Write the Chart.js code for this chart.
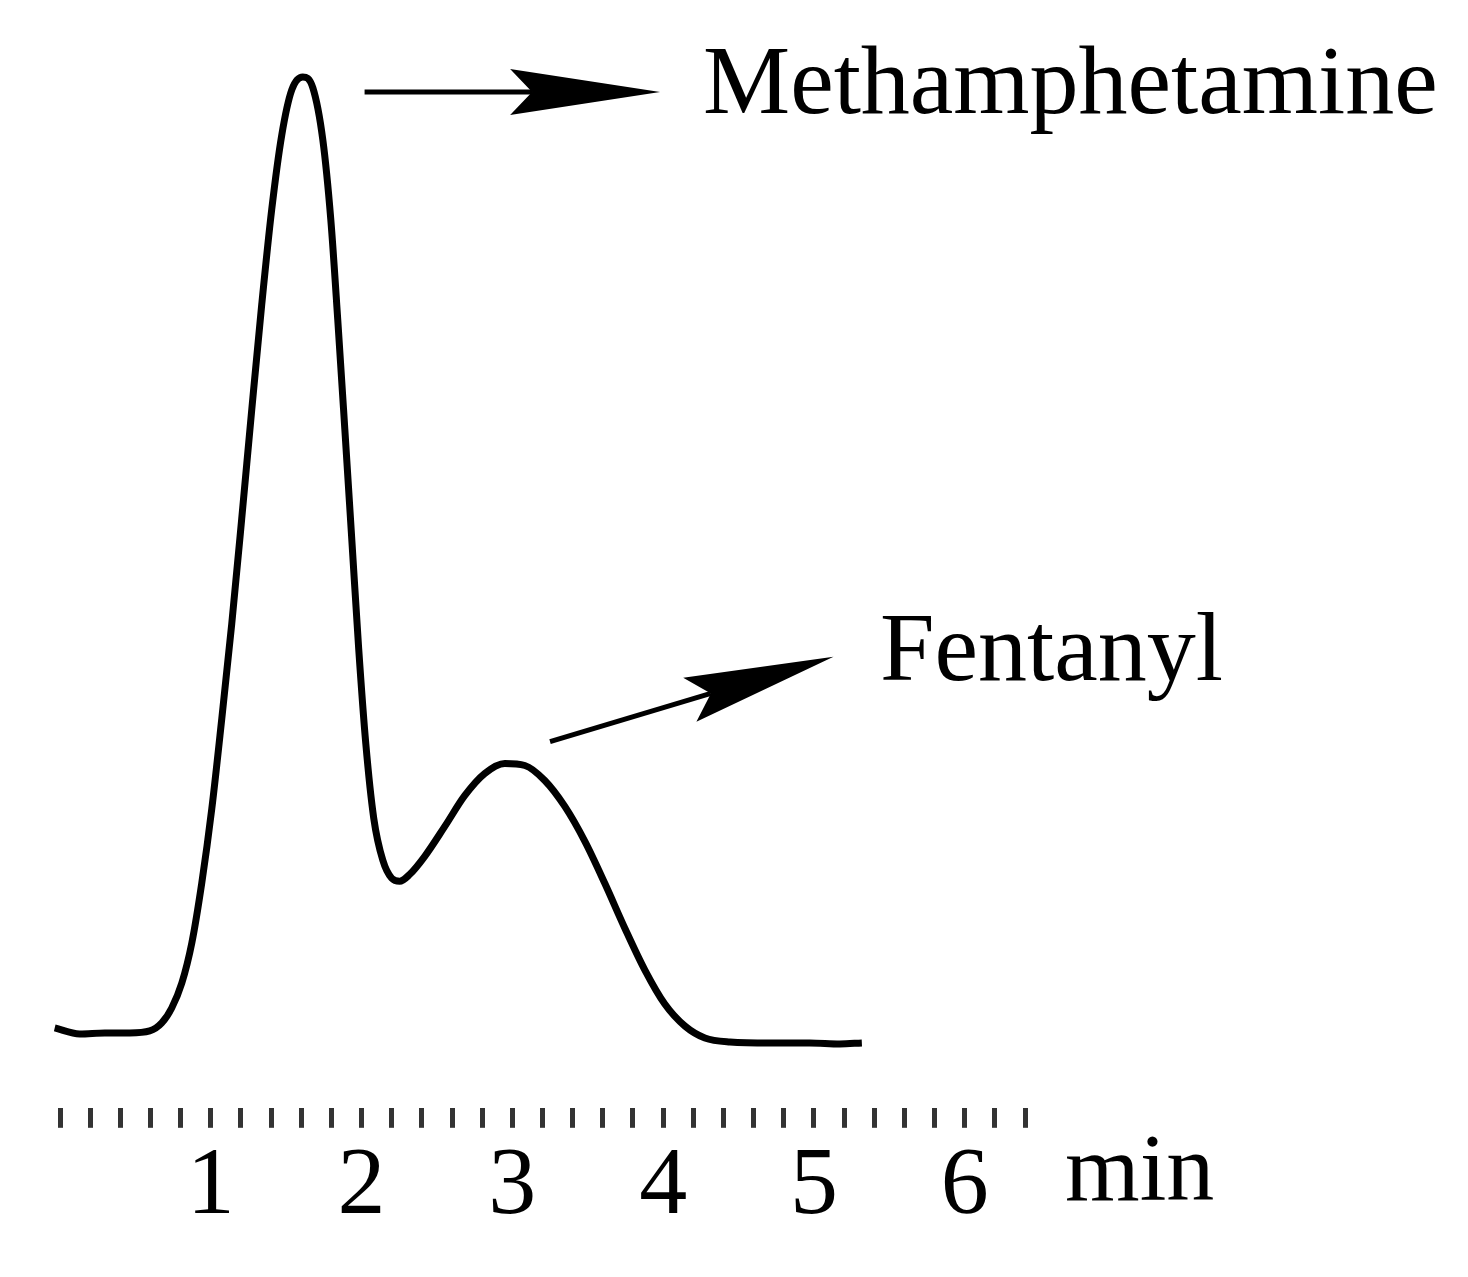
<!DOCTYPE html>
<html>
<head>
<meta charset="utf-8">
<script src="https://cdn.jsdelivr.net/npm/chart.js@4"></script>
<style>
  html, body { margin: 0; padding: 0; background: #fff; }
  #wrap { width: 1468px; height: 1277px; }
</style>
</head>
<body>
<div id="wrap"><canvas id="myChart" width="1468" height="1277"></canvas></div>
<script>
// retention time (min) and detector signal (arbitrary units)
const times = [-0.035, 0.131, 0.297, 0.463, 0.595, 0.675, 0.741, 0.808, 0.874, 0.94,
  1.007, 1.073, 1.139, 1.205, 1.272, 1.338, 1.404, 1.471, 1.537, 1.61,
  1.677, 1.743, 1.796, 1.842, 1.889, 1.935, 1.981, 2.028, 2.081, 2.141,
  2.2, 2.253, 2.32, 2.419, 2.552, 2.685, 2.817, 2.95, 3.083, 3.215,
  3.348, 3.481, 3.613, 3.746, 3.879, 4.011, 4.144, 4.277, 4.443, 4.708,
  4.973, 5.172, 5.318];
const signal = [1.0, 0.4, 0.5, 0.5, 0.7, 1.5, 3.0, 5.5, 9.5, 15.5,
  23, 32, 41.5, 52, 63, 73.5, 83, 90.5, 95, 96.3,
  95.2, 90, 82, 72, 61, 50, 39, 29.5, 22, 17.8,
  16, 15.7, 16.4, 18.2, 21.2, 24.3, 26.5, 27.5, 27.3, 25.8,
  23.2, 19.7, 15.5, 11, 6.8, 3.4, 1.2, 0, -0.4, -0.5,
  -0.5, -0.6, -0.5];

const tickLabels = ['1', '2', '3', '4', '5', '6'];
const axisUnit = 'min';

// peak labels: text, arrow start [t, v], arrow tip [t, v]
const peakNames = ['Methamphetamine', 'Fentanyl'];
const arrowFrom = [[2.02, 94.8], [3.25, 29.7]];
const arrowTo = [[3.98, 94.8], [5.13, 38.2]];

const serif = "'Liberation Serif', 'Times New Roman', serif";

const points = times.map((t, i) => ({ x: t, y: signal[i] }));

// arrows + peak names + unit label
const annotate = {
  id: 'annotate',
  afterDatasetsDraw(chart) {
    const c = chart.ctx;
    const xs = chart.scales.x, ys = chart.scales.y;
    c.save();
    c.fillStyle = '#000';
    c.strokeStyle = '#000';
    peakNames.forEach((name, i) => {
      const x0 = xs.getPixelForValue(arrowFrom[i][0]), y0 = ys.getPixelForValue(arrowFrom[i][1]);
      const x1 = xs.getPixelForValue(arrowTo[i][0]), y1 = ys.getPixelForValue(arrowTo[i][1]);
      const ang = Math.atan2(y1 - y0, x1 - x0);
      const headLen = 150, headHalf = 23, notch = 128;
      const ca = Math.cos(ang), sa = Math.sin(ang);
      c.lineWidth = 5;
      c.beginPath();
      c.moveTo(x0, y0);
      c.lineTo(x1 - notch * ca, y1 - notch * sa);
      c.stroke();
      c.beginPath();
      c.moveTo(x1, y1);
      c.lineTo(x1 - headLen * ca + headHalf * sa, y1 - headLen * sa - headHalf * ca);
      c.lineTo(x1 - notch * ca, y1 - notch * sa);
      c.lineTo(x1 - headLen * ca - headHalf * sa, y1 - headLen * sa + headHalf * ca);
      c.closePath();
      c.fill();
    });
    c.font = '98px ' + serif;
    c.textBaseline = 'alphabetic';
    c.textAlign = 'left';
    c.fillText(peakNames[0], 703, 113);
    c.fillText(peakNames[1], 880, 680);
    c.font = '96px ' + serif;
    c.fillText(axisUnit, 1065, 1200);
    c.restore();
  }
};

const ctx = document.getElementById('myChart').getContext('2d');
new Chart(ctx, {
  type: 'line',
  data: {
    datasets: [{
      data: points,
      borderColor: '#000',
      borderWidth: 7,
      pointRadius: 0,
      fill: false,
      cubicInterpolationMode: 'monotone',
      clip: false
    }]
  },
  options: {
    responsive: false,
    animation: false,
    events: [],
    layout: { padding: { left: 60, right: 443, top: 40, bottom: 30 } },
    plugins: { legend: { display: false }, tooltip: { enabled: false } },
    scales: {
      x: {
        type: 'linear',
        min: 0,
        max: 6.4,
        border: { display: false },
        grid: {
          drawOnChartArea: false,
          drawTicks: true,
          tickLength: 20,
          lineWidth: 5,
          color: '#333'
        },
        ticks: {
          stepSize: 0.2,
          autoSkip: false,
          maxRotation: 0,
          padding: 2,
          color: '#000',
          font: { family: serif, size: 96 },
          callback: v => {
            const r = Math.round(v);
            return (Math.abs(v - r) < 1e-6 && r >= 1 && r <= 6) ? tickLabels[r - 1] : '';
          }
        }
      },
      y: {
        display: false,
        min: -7,
        max: 100
      }
    }
  },
  plugins: [annotate]
});
</script>
</body>
</html>
